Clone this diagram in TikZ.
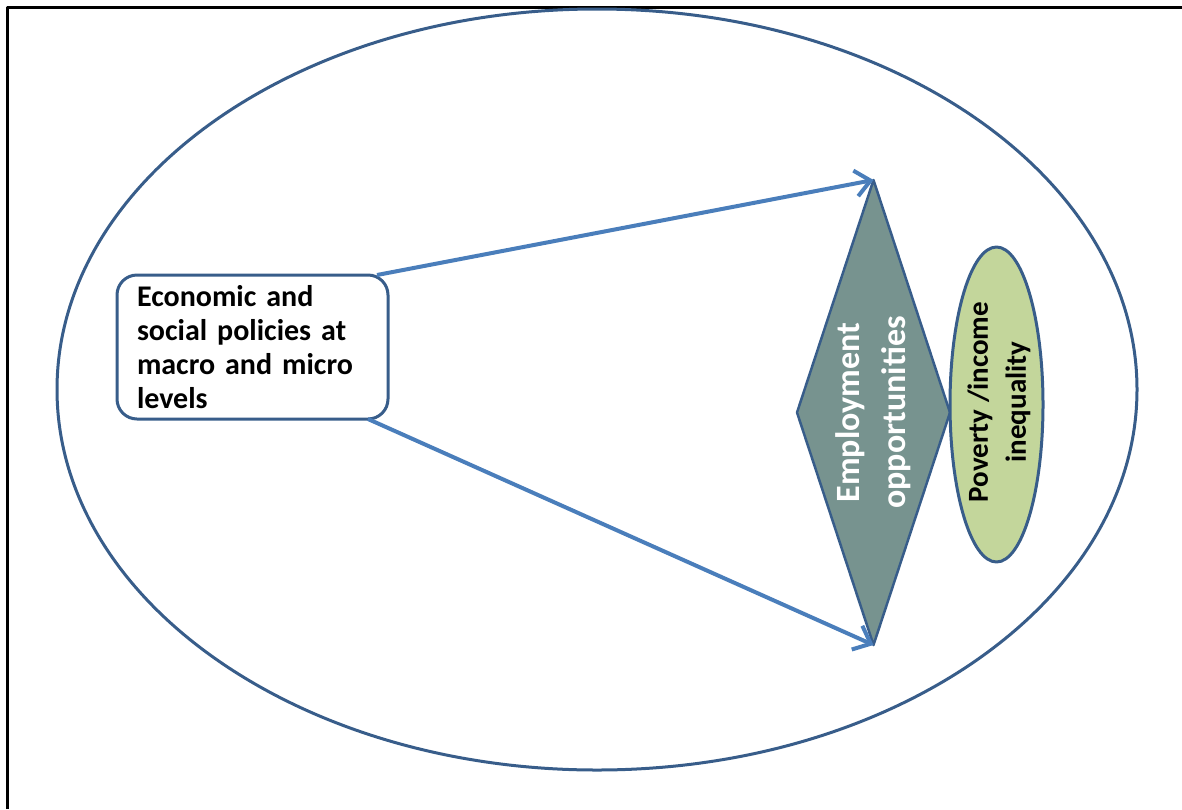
\documentclass[tikz,border=0pt]{standalone}
\usepackage{fontspec}
\setmainfont{Carlito}
\usetikzlibrary{shapes.geometric,arrows.meta}
\definecolor{outline}{RGB}{56,93,138}
\definecolor{arrowblue}{RGB}{74,126,187}
\definecolor{jobgray}{RGB}{119,147,143}
\definecolor{povgreen}{RGB}{195,214,155}
\begin{document}
\begin{tikzpicture}
            [x=1pt,y=-1pt,line join=round,
             shape outline/.style={draw=outline,line width=3pt,inner sep=0pt,outer sep=0pt},
             link/.style={arrowblue,line width=4pt,-{Straight Barb[length=15pt,width=26pt]}}]
            \useasboundingbox (0,0) rectangle (1182,809);
            \draw [line width=3pt] (7,809) -- (7,7) -- (1182,7);
            \node (world) [ellipse,shape outline,minimum width=1080pt,minimum height=761pt] at (597,389.5) {};
            \node (policies) [rounded corners=20pt,shape outline,fill=white,
                minimum width=271pt,minimum height=144pt,text width=231pt,align=left,
                font=\fontsize{30}{34}\selectfont\bfseries] at (252.5,347)
                {Economic and\\ social policies at\\ macro and micro\\ levels};
            \node (jobs) [diamond,shape outline,line width=2.5pt,fill=jobgray,
                minimum width=153pt,minimum height=465pt] at (873.5,412.5) {};
            \node (jobstext) [rotate=90,align=center,text=white,
                font=\fontsize{34}{46}\selectfont\bfseries] at (jobs.center)
                {Employment\\ opportunities};
            \node (poverty) [ellipse,shape outline,fill=povgreen,
                minimum width=93pt,minimum height=315pt] at (996.5,404.5) {};
            \node (povertytext) [rotate=90,align=center,
                font=\fontsize{29}{38}\selectfont\bfseries] at (999,402)
                {Poverty /income\\ inequality};
            \draw [link] ([xshift=-11pt]policies.north east) -- (jobs.north);
            \draw [link] ([xshift=-20pt]policies.south east) -- (jobs.south);
        \end{tikzpicture}
\end{document}
